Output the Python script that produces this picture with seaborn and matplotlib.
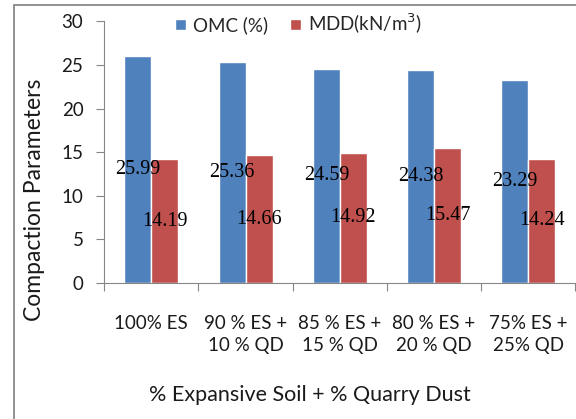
import matplotlib
matplotlib.use("Agg")
import matplotlib.pyplot as plt
from matplotlib.patches import Rectangle
from matplotlib.ticker import FixedLocator, NullFormatter
import seaborn as sns
import pandas as pd

# Mix proportions and measured compaction parameters
mixes = ["100% ES", "90 % ES +\n10 % QD", "85 % ES +\n15 % QD",
         "80 % ES +\n20 % QD", "75% ES +\n25% QD"]
omc = [25.99, 25.36, 24.59, 24.38, 23.29]
mdd = [14.19, 14.66, 14.92, 15.47, 14.24]
series_names = ["OMC (%)", "MDD(kN/m$^3$)"]
y_ticks = [0, 5, 10, 15, 20, 25, 30]

df = pd.DataFrame({
    "mix": mixes * 2,
    "value": omc + mdd,
    "param": [series_names[0]] * len(mixes) + [series_names[1]] * len(mixes),
})

sns.set_theme(style="white")
plt.rcParams["font.family"] = ["Lato", "DejaVu Sans"]

fig = plt.figure(figsize=(5.76, 4.19), dpi=100)
ax = fig.add_axes([0.181, 0.3246, 0.818, 0.6241])

palette = {series_names[0]: "#4F81BD", series_names[1]: "#C0504D"}
sns.barplot(data=df, x="mix", y="value", hue="param", order=mixes,
            hue_order=series_names, palette=palette, width=0.574,
            saturation=1, ax=ax, legend=True)

# values written at the middle of each bar
for container in ax.containers:
    ax.bar_label(container, fmt="%.2f", label_type="center",
                 fontsize=14.5, family="Liberation Serif", color="black")

ax.set_xlim(-0.5, 4.5)
ax.set_ylim(0, 30)
ax.set_yticks(y_ticks)
ax.tick_params(axis="y", labelsize=13.5, length=6, width=0.8, color="#868686",
               direction="out", left=True, pad=9, labelcolor="#1a1a1a")
ax.tick_params(axis="x", which="major", labelsize=13.5, length=0, pad=23,
               labelcolor="#1a1a1a")
ax.xaxis.set_minor_locator(FixedLocator([i - 0.5 for i in range(len(mixes) + 1)]))
ax.xaxis.set_minor_formatter(NullFormatter())
ax.tick_params(axis="x", which="minor", length=6, width=0.8, color="#868686",
               direction="out", bottom=True)
for lbl in ax.get_xticklabels():
    lbl.set_linespacing(1.38)

for side in ["top", "right"]:
    ax.spines[side].set_visible(False)
for side in ["left", "bottom"]:
    ax.spines[side].set_color("#868686")
    ax.spines[side].set_linewidth(0.8)

ax.set_xlabel("% Expansive Soil + % Quarry Dust", fontsize=15.5, color="#1a1a1a")
ax.set_ylabel("Compaction Parameters", fontsize=16.5, color="#1a1a1a")
ax.xaxis.label.set_va("center")
ax.yaxis.label.set_va("center")
ax.xaxis.set_label_coords(0.437, -0.429)
ax.yaxis.set_label_coords(-0.149, 0.318)

ax.legend(loc="center", bbox_to_anchor=(0.518, 0.943),
          bbox_transform=fig.transFigure, ncol=2, frameon=False,
          fontsize=13.5, handlelength=0.6, handleheight=0.6,
          handletextpad=0.35, columnspacing=1.2)

# outer frame of the chart
fig.patches.append(Rectangle((14 / 576, -0.05), 0.99, 1.0 - 5 / 419 + 0.05,
                             transform=fig.transFigure, fill=False,
                             edgecolor="#7f7f7f", linewidth=1.2))

fig.savefig("out.png", dpi=100)
